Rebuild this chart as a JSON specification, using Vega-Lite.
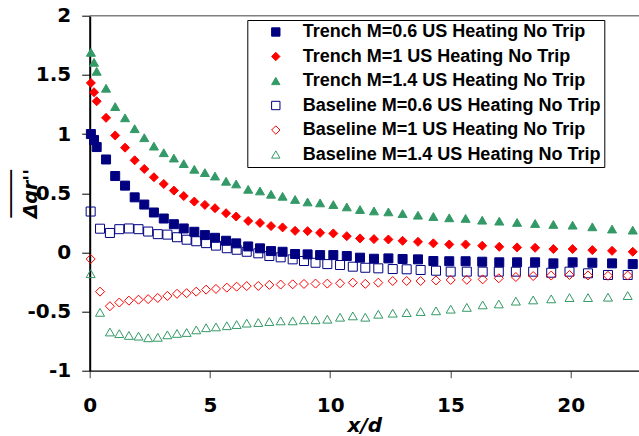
{
"$schema":"https://vega.github.io/schema/vega-lite/v6.json",
"width":549.3,"height":355,
"autosize":{"type":"none"},
"padding":{"left":89.7,"top":15.7,"right":0,"bottom":65.3},
"background":"white",
"config":{"view":{"stroke":null},"font":"Liberation Sans"},
"datasets":{
"names":[
{"s":"T6","name":"Trench M=0.6 US Heating No Trip"},
{"s":"T10","name":"Trench M=1 US Heating No Trip"},
{"s":"T14","name":"Trench M=1.4 US Heating No Trip"},
{"s":"B6","name":"Baseline M=0.6 US Heating No Trip"},
{"s":"B10","name":"Baseline M=1 US Heating No Trip"},
{"s":"B14","name":"Baseline M=1.4 US Heating No Trip"}],
"top":[{"g":2}],
"pts":[
{"s":"T6","x":0.05,"y":1.0},{"s":"T6","x":0.18,"y":0.95},{"s":"T6","x":0.29,"y":0.89},{"s":"T6","x":0.68,"y":0.785},{"s":"T6","x":1.06,"y":0.645},{"s":"T6","x":1.47,"y":0.564},{"s":"T6","x":1.87,"y":0.465},{"s":"T6","x":2.27,"y":0.404},{"s":"T6","x":2.67,"y":0.337},{"s":"T6","x":3.08,"y":0.286},{"s":"T6","x":3.5,"y":0.238},{"s":"T6","x":3.91,"y":0.202},{"s":"T6","x":4.35,"y":0.174},{"s":"T6","x":4.79,"y":0.146},{"s":"T6","x":5.21,"y":0.123},{"s":"T6","x":5.67,"y":0.098},{"s":"T6","x":6.09,"y":0.076},{"s":"T6","x":6.59,"y":0.05},{"s":"T6","x":7.08,"y":0.034},{"s":"T6","x":7.54,"y":0.011},{"s":"T6","x":8.02,"y":0.005},{"s":"T6","x":8.54,"y":-0.014},{"s":"T6","x":9.06,"y":-0.017},{"s":"T6","x":9.58,"y":-0.023},{"s":"T6","x":10.13,"y":-0.023},{"s":"T6","x":10.69,"y":-0.031},{"s":"T6","x":11.24,"y":-0.045},{"s":"T6","x":11.82,"y":-0.054},{"s":"T6","x":12.42,"y":-0.051},{"s":"T6","x":13.01,"y":-0.056},{"s":"T6","x":13.65,"y":-0.059},{"s":"T6","x":14.29,"y":-0.073},{"s":"T6","x":14.95,"y":-0.075},{"s":"T6","x":15.63,"y":-0.075},{"s":"T6","x":16.32,"y":-0.079},{"s":"T6","x":17.03,"y":-0.084},{"s":"T6","x":17.77,"y":-0.084},{"s":"T6","x":18.52,"y":-0.084},{"s":"T6","x":19.28,"y":-0.093},{"s":"T6","x":20.08,"y":-0.084},{"s":"T6","x":20.9,"y":-0.088},{"s":"T6","x":21.72,"y":-0.093},{"s":"T6","x":22.58,"y":-0.099},
{"s":"T10","x":0.05,"y":1.432},{"s":"T10","x":0.18,"y":1.353},{"s":"T10","x":0.29,"y":1.277},{"s":"T10","x":0.68,"y":1.137},{"s":"T10","x":1.06,"y":0.988},{"s":"T10","x":1.47,"y":0.885},{"s":"T10","x":1.87,"y":0.778},{"s":"T10","x":2.27,"y":0.705},{"s":"T10","x":2.67,"y":0.635},{"s":"T10","x":3.08,"y":0.578},{"s":"T10","x":3.5,"y":0.522},{"s":"T10","x":3.91,"y":0.476},{"s":"T10","x":4.35,"y":0.429},{"s":"T10","x":4.79,"y":0.401},{"s":"T10","x":5.21,"y":0.373},{"s":"T10","x":5.67,"y":0.331},{"s":"T10","x":6.09,"y":0.303},{"s":"T10","x":6.59,"y":0.265},{"s":"T10","x":7.08,"y":0.249},{"s":"T10","x":7.54,"y":0.222},{"s":"T10","x":8.02,"y":0.211},{"s":"T10","x":8.54,"y":0.182},{"s":"T10","x":9.06,"y":0.179},{"s":"T10","x":9.58,"y":0.165},{"s":"T10","x":10.13,"y":0.16},{"s":"T10","x":10.69,"y":0.137},{"s":"T10","x":11.24,"y":0.118},{"s":"T10","x":11.82,"y":0.112},{"s":"T10","x":12.42,"y":0.109},{"s":"T10","x":13.01,"y":0.098},{"s":"T10","x":13.65,"y":0.089},{"s":"T10","x":14.29,"y":0.076},{"s":"T10","x":14.95,"y":0.067},{"s":"T10","x":15.63,"y":0.067},{"s":"T10","x":16.32,"y":0.056},{"s":"T10","x":17.03,"y":0.047},{"s":"T10","x":17.77,"y":0.042},{"s":"T10","x":18.52,"y":0.039},{"s":"T10","x":19.28,"y":0.028},{"s":"T10","x":20.08,"y":0.028},{"s":"T10","x":20.9,"y":0.019},{"s":"T10","x":21.72,"y":0.013},{"s":"T10","x":22.58,"y":0.005},
{"s":"T14","x":0.05,"y":1.69},{"s":"T14","x":0.18,"y":1.606},{"s":"T14","x":0.29,"y":1.53},{"s":"T14","x":0.68,"y":1.387},{"s":"T14","x":1.06,"y":1.232},{"s":"T14","x":1.47,"y":1.137},{"s":"T14","x":1.87,"y":1.045},{"s":"T14","x":2.27,"y":0.969},{"s":"T14","x":2.67,"y":0.898},{"s":"T14","x":3.08,"y":0.842},{"s":"T14","x":3.5,"y":0.797},{"s":"T14","x":3.91,"y":0.75},{"s":"T14","x":4.35,"y":0.702},{"s":"T14","x":4.79,"y":0.674},{"s":"T14","x":5.21,"y":0.645},{"s":"T14","x":5.67,"y":0.601},{"s":"T14","x":6.09,"y":0.578},{"s":"T14","x":6.59,"y":0.533},{"s":"T14","x":7.08,"y":0.519},{"s":"T14","x":7.54,"y":0.491},{"s":"T14","x":8.02,"y":0.474},{"s":"T14","x":8.54,"y":0.447},{"s":"T14","x":9.06,"y":0.426},{"s":"T14","x":9.58,"y":0.418},{"s":"T14","x":10.13,"y":0.404},{"s":"T14","x":10.69,"y":0.384},{"s":"T14","x":11.24,"y":0.362},{"s":"T14","x":11.82,"y":0.35},{"s":"T14","x":12.42,"y":0.342},{"s":"T14","x":13.01,"y":0.328},{"s":"T14","x":13.65,"y":0.314},{"s":"T14","x":14.29,"y":0.303},{"s":"T14","x":14.95,"y":0.292},{"s":"T14","x":15.63,"y":0.287},{"s":"T14","x":16.32,"y":0.272},{"s":"T14","x":17.03,"y":0.264},{"s":"T14","x":17.77,"y":0.253},{"s":"T14","x":18.52,"y":0.244},{"s":"T14","x":19.28,"y":0.236},{"s":"T14","x":20.08,"y":0.23},{"s":"T14","x":20.9,"y":0.216},{"s":"T14","x":21.72,"y":0.197},{"s":"T14","x":22.58,"y":0.188},
{"s":"B6","x":0.04,"y":0.345},{"s":"B6","x":0.43,"y":0.2},{"s":"B6","x":0.84,"y":0.164},{"s":"B6","x":1.23,"y":0.196},{"s":"B6","x":1.63,"y":0.202},{"s":"B6","x":2.03,"y":0.196},{"s":"B6","x":2.43,"y":0.176},{"s":"B6","x":2.83,"y":0.154},{"s":"B6","x":3.23,"y":0.15},{"s":"B6","x":3.63,"y":0.128},{"s":"B6","x":4.03,"y":0.107},{"s":"B6","x":4.43,"y":0.094},{"s":"B6","x":4.84,"y":0.078},{"s":"B6","x":5.25,"y":0.057},{"s":"B6","x":5.7,"y":0.035},{"s":"B6","x":6.11,"y":0.022},{"s":"B6","x":6.53,"y":0.005},{"s":"B6","x":7.01,"y":-0.008},{"s":"B6","x":7.47,"y":-0.031},{"s":"B6","x":7.94,"y":-0.042},{"s":"B6","x":8.44,"y":-0.059},{"s":"B6","x":8.91,"y":-0.073},{"s":"B6","x":9.39,"y":-0.088},{"s":"B6","x":9.88,"y":-0.099},{"s":"B6","x":10.41,"y":-0.107},{"s":"B6","x":10.94,"y":-0.121},{"s":"B6","x":11.46,"y":-0.13},{"s":"B6","x":12.0,"y":-0.135},{"s":"B6","x":12.6,"y":-0.141},{"s":"B6","x":13.18,"y":-0.143},{"s":"B6","x":13.76,"y":-0.149},{"s":"B6","x":14.4,"y":-0.155},{"s":"B6","x":15.01,"y":-0.163},{"s":"B6","x":15.68,"y":-0.163},{"s":"B6","x":16.34,"y":-0.163},{"s":"B6","x":17.01,"y":-0.163},{"s":"B6","x":17.72,"y":-0.163},{"s":"B6","x":18.44,"y":-0.163},{"s":"B6","x":19.19,"y":-0.172},{"s":"B6","x":19.95,"y":-0.163},{"s":"B6","x":20.72,"y":-0.177},{"s":"B6","x":21.55,"y":-0.191},{"s":"B6","x":22.37,"y":-0.191},
{"s":"B10","x":0.04,"y":-0.056},{"s":"B10","x":0.43,"y":-0.332},{"s":"B10","x":0.84,"y":-0.455},{"s":"B10","x":1.23,"y":-0.424},{"s":"B10","x":1.63,"y":-0.408},{"s":"B10","x":2.03,"y":-0.4},{"s":"B10","x":2.43,"y":-0.395},{"s":"B10","x":2.83,"y":-0.385},{"s":"B10","x":3.23,"y":-0.368},{"s":"B10","x":3.63,"y":-0.35},{"s":"B10","x":4.03,"y":-0.345},{"s":"B10","x":4.43,"y":-0.332},{"s":"B10","x":4.84,"y":-0.315},{"s":"B10","x":5.25,"y":-0.309},{"s":"B10","x":5.7,"y":-0.298},{"s":"B10","x":6.11,"y":-0.29},{"s":"B10","x":6.53,"y":-0.285},{"s":"B10","x":7.01,"y":-0.284},{"s":"B10","x":7.47,"y":-0.275},{"s":"B10","x":7.94,"y":-0.272},{"s":"B10","x":8.44,"y":-0.27},{"s":"B10","x":8.91,"y":-0.267},{"s":"B10","x":9.39,"y":-0.264},{"s":"B10","x":9.88,"y":-0.264},{"s":"B10","x":10.41,"y":-0.261},{"s":"B10","x":10.94,"y":-0.256},{"s":"B10","x":11.46,"y":-0.266},{"s":"B10","x":12.0,"y":-0.256},{"s":"B10","x":12.6,"y":-0.242},{"s":"B10","x":13.18,"y":-0.242},{"s":"B10","x":13.76,"y":-0.242},{"s":"B10","x":14.4,"y":-0.237},{"s":"B10","x":15.01,"y":-0.233},{"s":"B10","x":15.68,"y":-0.232},{"s":"B10","x":16.34,"y":-0.228},{"s":"B10","x":17.01,"y":-0.219},{"s":"B10","x":17.72,"y":-0.208},{"s":"B10","x":18.44,"y":-0.2},{"s":"B10","x":19.19,"y":-0.196},{"s":"B10","x":19.95,"y":-0.191},{"s":"B10","x":20.72,"y":-0.195},{"s":"B10","x":21.55,"y":-0.198},{"s":"B10","x":22.37,"y":-0.196},
{"s":"B14","x":0.04,"y":-0.18},{"s":"B14","x":0.43,"y":-0.507},{"s":"B14","x":0.84,"y":-0.673},{"s":"B14","x":1.23,"y":-0.687},{"s":"B14","x":1.63,"y":-0.702},{"s":"B14","x":2.03,"y":-0.708},{"s":"B14","x":2.43,"y":-0.722},{"s":"B14","x":2.83,"y":-0.718},{"s":"B14","x":3.23,"y":-0.697},{"s":"B14","x":3.63,"y":-0.685},{"s":"B14","x":4.03,"y":-0.677},{"s":"B14","x":4.43,"y":-0.655},{"s":"B14","x":4.84,"y":-0.637},{"s":"B14","x":5.25,"y":-0.63},{"s":"B14","x":5.7,"y":-0.62},{"s":"B14","x":6.11,"y":-0.61},{"s":"B14","x":6.53,"y":-0.598},{"s":"B14","x":7.01,"y":-0.593},{"s":"B14","x":7.47,"y":-0.585},{"s":"B14","x":7.94,"y":-0.579},{"s":"B14","x":8.44,"y":-0.579},{"s":"B14","x":8.91,"y":-0.57},{"s":"B14","x":9.39,"y":-0.57},{"s":"B14","x":9.88,"y":-0.565},{"s":"B14","x":10.41,"y":-0.548},{"s":"B14","x":10.94,"y":-0.537},{"s":"B14","x":11.46,"y":-0.548},{"s":"B14","x":12.0,"y":-0.523},{"s":"B14","x":12.6,"y":-0.514},{"s":"B14","x":13.18,"y":-0.509},{"s":"B14","x":13.76,"y":-0.5},{"s":"B14","x":14.4,"y":-0.494},{"s":"B14","x":15.01,"y":-0.48},{"s":"B14","x":15.68,"y":-0.465},{"s":"B14","x":16.34,"y":-0.444},{"s":"B14","x":17.01,"y":-0.436},{"s":"B14","x":17.72,"y":-0.412},{"s":"B14","x":18.44,"y":-0.402},{"s":"B14","x":19.19,"y":-0.393},{"s":"B14","x":19.95,"y":-0.382},{"s":"B14","x":20.72,"y":-0.382},{"s":"B14","x":21.55,"y":-0.379},{"s":"B14","x":22.37,"y":-0.365}
]},
"layer":[
{"data":{"name":"top"},
 "mark":{"type":"rule","color":"#808080","strokeWidth":1.5},
 "encoding":{"y":{"field":"g","type":"quantitative"}}},
{"data":{"name":"pts"},
"transform":[{"lookup":"s","from":{"data":{"name":"names"},"key":"s","fields":["name"]}}],
"mark":{"type":"point","filled":true,"size":81,"strokeWidth":1,"opacity":1},
"encoding":{
"x":{"field":"x","type":"quantitative","scale":{"domain":[0,22.84],"nice":false,"zero":false},
 "axis":{"values":[0,5,10,15,20],"title":"x/d","titleFont":"DejaVu Sans","titleFontSize":20,"titleFontWeight":"bold","titleFontStyle":"italic","titleColor":"black","titleX":274.6,"titleY":61,"titleBaseline":"alphabetic","titleAlign":"center",
 "labelFont":"DejaVu Sans","labelFontSize":20,"labelFontWeight":"bold","labelColor":"black","labelPadding":18,"labelFlush":false,"labelOverlap":false,
 "tickSize":7,"tickColor":"#404040","tickWidth":1,"domainColor":"black","domainWidth":1.3,"grid":false}},
"y":{"field":"y","type":"quantitative","scale":{"domain":[-1,2],"nice":false,"zero":false},
 "axis":{"values":[-1,-0.5,0,0.5,1,1.5,2],"labelExpr":"'' + datum.value",
 "title":["_____","Δqr''"],"titleFont":"DejaVu Sans","titleFontSize":19,"titleFontWeight":"bold","titleFontStyle":"italic","titleColor":"black","titleX":-83.5,"titleY":177.5,"titleAngle":270,"titleAlign":"center","titleBaseline":"alphabetic","titleLineHeight":30,
 "labelFont":"DejaVu Sans","labelFontSize":20,"labelFontWeight":"bold","labelColor":"black","labelPadding":11,"labelFlush":false,"labelOverlap":false,
 "tickSize":8,"tickColor":"black","tickWidth":1,
 "domainColor":"black","domainWidth":2,"grid":false}},
"fill":{"field":"name","type":"nominal",
 "scale":{"domain":["Trench M=0.6 US Heating No Trip","Trench M=1 US Heating No Trip","Trench M=1.4 US Heating No Trip","Baseline M=0.6 US Heating No Trip","Baseline M=1 US Heating No Trip","Baseline M=1.4 US Heating No Trip"],
 "range":["#000080","#FF0000","#339966","transparent","transparent","transparent"]},
 "legend":{"title":null,"orient":"none","legendX":157.6,"legendY":4.3,"strokeColor":"black","fillColor":"white","padding":3,"rowPadding":6.5,
 "labelFont":"Liberation Sans","labelFontSize":18,"labelFontWeight":"bold","labelColor":"black","labelLimit":1000,"labelExpr":"datum.label + '            '",
 "symbolSize":70,"symbolStrokeWidth":1,"symbolOffset":16.5,"labelOffset":18}},
"stroke":{"field":"name","type":"nominal",
 "scale":{"domain":["Trench M=0.6 US Heating No Trip","Trench M=1 US Heating No Trip","Trench M=1.4 US Heating No Trip","Baseline M=0.6 US Heating No Trip","Baseline M=1 US Heating No Trip","Baseline M=1.4 US Heating No Trip"],
 "range":["#000080","#FF0000","#339966","#000080","#FF0000","#339966"]}},
"shape":{"field":"name","type":"nominal",
 "scale":{"domain":["Trench M=0.6 US Heating No Trip","Trench M=1 US Heating No Trip","Trench M=1.4 US Heating No Trip","Baseline M=0.6 US Heating No Trip","Baseline M=1 US Heating No Trip","Baseline M=1.4 US Heating No Trip"],
 "range":["square","diamond","triangle-up","square","diamond","triangle-up"]}}
}}]
}
